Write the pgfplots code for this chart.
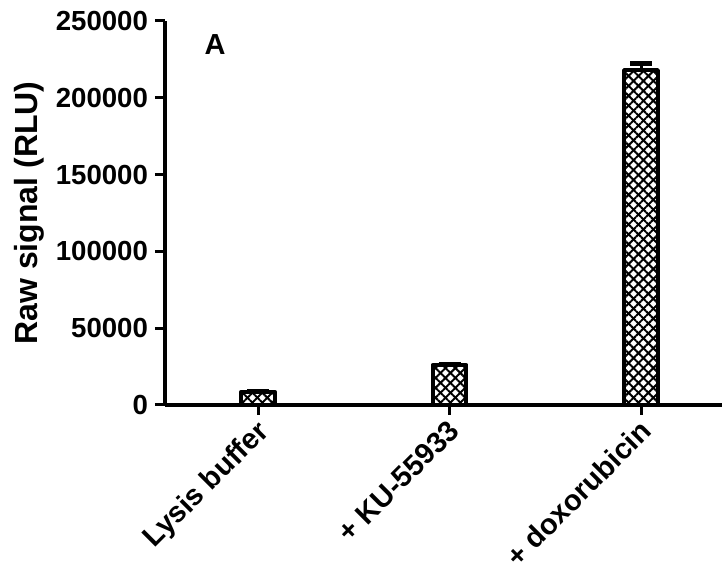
\documentclass[border=0pt]{standalone}
\usepackage{fontspec}
\setmainfont{Liberation Sans}
\usepackage{pgfplots}
\pgfplotsset{compat=1.18}
\usetikzlibrary{patterns.meta}
\begin{document}
\begin{tikzpicture}
\begin{axis}[
  name=ax,
  width=278.5pt, height=192pt, scale only axis,
  xmin=-0.486, xmax=2.423, ymin=0, ymax=250000,
  axis x line=bottom, axis y line=left,
  axis line style={-, line width=2pt},
  xtick={0,1,2},
  xticklabels={Lysis buffer, + KU-55933, + doxorubicin},
  x tick label style={rotate=45, anchor=north east, font=\bfseries\fontsize{14.5}{17}\selectfont, inner sep=1pt, xshift=-1pt, yshift=1pt},
  y tick label style={font=\bfseries\fontsize{13.8}{16}\selectfont},
  tick align=outside, major tick length=5pt,
  tick style={line width=1.5pt, black},
  ytick={0,50000,100000,150000,200000,250000},
  yticklabels={0,50000,100000,150000,200000,250000},
  scaled y ticks=false,
  ylabel={Raw signal (RLU)},
  ylabel style={font=\bfseries\fontsize{16}{18}\selectfont, yshift=-1pt},
  clip=false,
]
\addplot[ybar, bar width=0.175, bar shift=0, draw=none,
  pattern={Lines[angle=45, distance=3.5pt, line width=1pt]}]
  coordinates {(0,8500) (1,26000) (2,218000)};
\addplot[ybar, bar width=0.175, bar shift=0, draw=black, line width=2.2pt, line join=round,
  pattern={Lines[angle=-45, distance=3.5pt, line width=1pt]},
  error bars/.cd, y dir=plus, y explicit,
  error bar style={line width=1.5pt},
  error mark options={rotate=90, mark size=5.5pt, line width=2.5pt}]
  coordinates {(0,8500) +- (0,500) (1,26000) +- (0,500) (2,218000) +- (0,4300)};
\node[font=\bfseries\fontsize{14.5}{16}\selectfont] at (rel axis cs:0.09,0.94) {A};
\end{axis}
\pgfresetboundingbox
\path ([shift={(-82.5pt,-80.5pt)}]ax.south west) rectangle ([shift={(2pt,10.5pt)}]ax.north east);
\end{tikzpicture}
\end{document}
